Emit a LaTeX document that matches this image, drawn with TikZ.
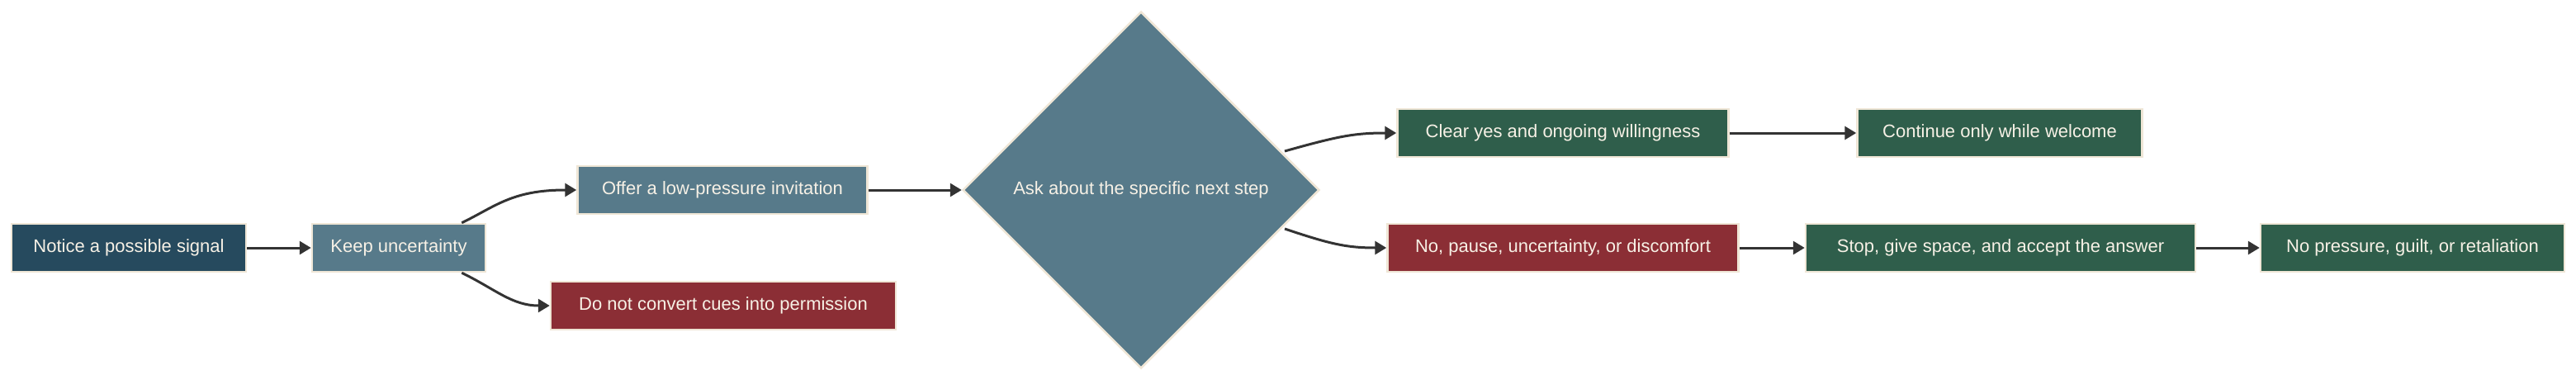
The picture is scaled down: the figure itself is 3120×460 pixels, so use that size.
\documentclass[tikz,border=0pt]{standalone}
\usepackage{fontspec}
\setmainfont{Liberation Sans}
\usetikzlibrary{shapes.geometric,arrows.meta}
\definecolor{navy}{HTML}{264A5E}
\definecolor{steel}{HTML}{577A8A}
\definecolor{fgreen}{HTML}{2F5E4B}
\definecolor{dred}{HTML}{8B2E35}
\definecolor{bord}{HTML}{EFE6D6}
\definecolor{txt}{HTML}{F7F1E6}
\definecolor{edge}{HTML}{333333}
\begin{document}
\begin{tikzpicture}[x=1pt,y=-1pt,
  box/.style={draw=bord,line width=2.5pt,text=txt,minimum height=58pt,inner sep=0pt,font=\fontsize{22}{26}\selectfont},
  arr/.style={draw=edge,line width=3pt,-{Triangle[length=14pt,width=16pt]}}]
\useasboundingbox (0,0) rectangle (3120,460);
\node[box,fill=navy,minimum width=284pt] (n1) at (156,300) {Notice a possible signal};
\node[box,fill=steel,minimum width=210pt] (n2) at (483,300) {Keep uncertainty};
\node[box,fill=steel,minimum width=351pt] (n3) at (875,230) {Offer a low-pressure invitation};
\node[box,fill=dred,minimum width=418pt] (n4) at (876,370) {Do not convert cues into permission};
\node[diamond,draw=bord,line width=2.5pt,fill=steel,text=txt,font=\fontsize{22}{26}\selectfont,minimum width=432pt,minimum height=432pt,inner sep=0pt] (d) at (1382,230) {Ask about the specific next step};
\node[box,fill=fgreen,minimum width=401pt] (c1) at (1893,161) {Clear yes and ongoing willingness};
\node[box,fill=fgreen,minimum width=345pt] (c2) at (2422,161) {Continue only while welcome};
\node[box,fill=dred,minimum width=425pt] (r1) at (1893,300) {No, pause, uncertainty, or discomfort};
\node[box,fill=fgreen,minimum width=472pt] (r2) at (2423,300) {Stop, give space, and accept the answer};
\node[box,fill=fgreen,minimum width=368pt] (r3) at (2922,300) {No pressure, guilt, or retaliation};
\draw[arr] (n1) -- (n2);
\draw[arr] ([xshift=-30pt]n2.north east) .. controls (600,250) and (620,230) .. (n3.west);
\draw[arr] ([xshift=-30pt]n2.south east) .. controls (600,350) and (620,370) .. (n4.west);
\draw[arr] (n3.east) -- (d.west);
\coordinate (du) at (1556,183);
\coordinate (dl) at (1556,277);
\draw[arr] (du) .. controls (1620,165) and (1640,161) .. (c1.west);
\draw[arr] (dl) .. controls (1610,295) and (1630,300) .. (r1.west);
\draw[arr] (c1) -- (c2);
\draw[arr] (r1) -- (r2);
\draw[arr] (r2) -- (r3);
\end{tikzpicture}
\end{document}
